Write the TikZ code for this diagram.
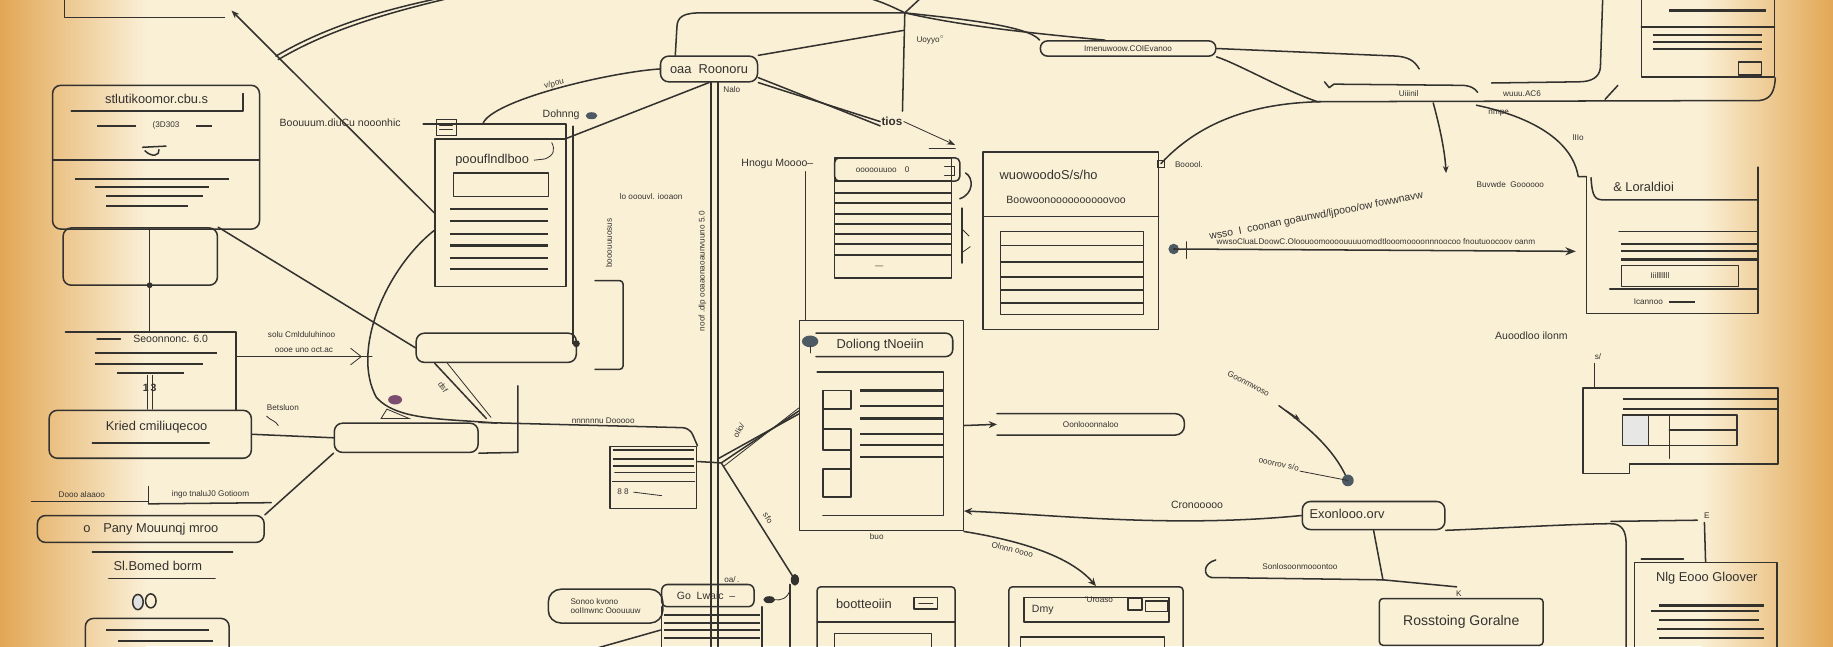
\documentclass[tikz,border=0pt]{standalone}
\usepackage{fontspec}
\setmainfont{Liberation Sans}
\usetikzlibrary{arrows.meta}
\definecolor{paper}{HTML}{FAF0D6}
\definecolor{amber}{HTML}{E2A755}
\definecolor{inkc}{HTML}{34322F}
\definecolor{slate}{HTML}{4E5A63}
\definecolor{plum}{HTML}{7B4E70}
\tikzset{
  ink/.style={draw=inkc, line width=1.3pt, line cap=round, line join=round},
  thin ink/.style={draw=inkc, line width=0.7pt, line cap=round},
  bar/.style={draw=inkc, line width=1.8pt},
  rbox/.style={ink, rounded corners=7pt, inner sep=0pt},
  sbox/.style={ink, inner sep=0pt},
  txt/.style={text=inkc, font=\fontsize{11}{13}\selectfont, inner sep=1pt},
  note/.style={text=inkc, font=\small, inner sep=1pt},
  wee/.style={text=inkc, font=\scriptsize, inner sep=1pt},
}
\begin{document}
\begin{tikzpicture}[x=1pt,y=-1pt]
% paper
\useasboundingbox (0,0) rectangle (1568,553);
\fill[paper] (0,0) rectangle (1568,553);
\shade[left color=amber, right color=paper] (0,0) rectangle (125,553);
\shade[left color=paper, right color=amber] (1455,0) rectangle (1568,553);

% left column
\draw[ink] (55,-2) -- (55,15) -- (192,15);
\coordinate (topend) at (198,9);
\node[rbox, minimum width=177pt, minimum height=123pt] (intake) at (133.5,134.5) {};
\draw[ink] (45,137) -- (222,137);
\draw[ink] (61,95) -- (208,95) -- (208,80);
\node[txt] (intaket) at (134,85) {stlutikoomor.cbu.s};
\draw[bar] (83,108) -- (116,108);
\draw[bar] (168,108) -- (181,108);
\node[wee] at (142,107) {(3D303};
\draw[ink] (122,126) -- (142,125);
\draw[ink] (124,129) .. controls (130,135) and (137,133) .. (136,128);
\foreach \y/\a/\b in {153/64/196,160/81/179,168/91/174,176/91/161}
  \draw[bar] (\a,\y) -- (\b,\y);
\node[rbox, minimum width=132pt, minimum height=49pt] (base) at (120,219.5) {};
\draw[ink] (128,195) -- (128,283);
\fill[inkc] (128,244) circle (2.5pt);

\draw[ink] (56,284) -- (202,284) -- (202,351);
\draw[ink] (202,305) -- (318,305);
\draw[thin ink] (300,298) -- (309,305) -- (300,312);
\draw[ink] (83,290) -- (103,290);
\node[note] (stack) at (146,290) {Seoonnonc. 6.0};
\foreach \y/\a/\b in {302/81/186,311/81/174,319/100/157}
  \draw[bar] (\a,\y) -- (\b,\y);
\node[note, font=\small\bfseries] at (128,332) {1\,3};
\draw[thin ink] (126,321) -- (126,350);
\draw[thin ink] (130,321) -- (130,350);
\node[wee] at (258,286) {solu Cmlduluhinoo};
\node[wee] at (260,299) {oooe uno oct.ac};
\node[wee] at (242,349) {Betsluon};
\draw[thin ink] (228,356) .. controls (232,360) and (236,360) .. (238,364);

\node[rbox, minimum width=173pt, minimum height=41pt] (kind) at (128.5,371.5) {};
\node[txt] at (134,365) {Kried cmiliuqecoo};
\draw[ink] (79,379) -- (179,379);
\node[wee] at (70,423) {Dooo alaaoo};
\draw[ink] (27,429) -- (127,429);
\draw[thin ink] (127,416) -- (127,431);
\node[wee] at (180,423) {ingo tnaluJ0 Gotioom};
\draw[ink] (127,431) -- (232,430);
\node[rbox, minimum width=194pt, minimum height=23pt, txt] (pony) at (129,452.5) {o\quad Pany Mouunqj mroo};
\draw[ink] (79,472) -- (199,472);
\node[txt] at (135,484) {Sl.Bomed borm};
\draw[ink] (93,495) -- (184,495);
\draw[ink, fill=inkc!15] (118,515) ellipse (4.5 and 6.5);
\draw[ink] (129,514) ellipse (4.5 and 6);
\node[rbox, minimum width=123pt, minimum height=40pt] (foot) at (134.5,549) {};
\draw[bar] (91,539) -- (179,539);
\draw[bar] (101,548) -- (182,548);

% document card
\node[sbox, minimum width=112pt, minimum height=126pt] (ddoc) at (428,182) {};
\draw[ink] (362,106) -- (484,106) -- (484,119);
\draw[thin ink] (373,102) rectangle (390,116);
\draw[thin ink] (376,107) -- (387,107);
\draw[thin ink] (376,111) -- (387,111);
\draw[ink] (490,108) -- (490,294);
\node[txt] (doct) at (421,137) {poouflndlboo};
\draw[thin ink] (457,137) -- (466,136) .. controls (474,133) and (475,128) .. (472,122);
\draw[sbox] (388,148) rectangle (469,168);
\foreach \y in {179,189,200,210,221,230}
  \draw[bar] (385,\y) -- (469,\y);
\node[note] (dohn) at (480,98) {Dohnng};
\fill[slate] (506,99) ellipse (5 and 3);
\node[note] at (291,105) {Boouuum.diuCu nooonhic};

\draw[ink, {Stealth[length=7pt]}-] (topend) -- (ddoc.west);
\coordinate (fork) at (236,48);
\draw[ink] (fork) .. controls (280,22) and (330,8) .. (378,-2);
\draw[ink] (fork) ++(2,3) .. controls (282,25) and (332,11) .. (382,-1);
\draw[ink] (ddoc.195) .. controls (330,230) and (300,300) .. (322,340)
  .. controls (340,360) and (380,358) .. (425,362);
\fill[plum] (338,342) ellipse (6 and 4);
\node[wee, rotate=-55] at (379,331) {dsf};
\draw[thin ink] (326,358) -- (331,350) -- (350,358) -- cycle;

\node[rbox, minimum width=137pt, minimum height=25pt] (mpill) at (424.5,297.5) {};
\fill[inkc] (493,294) circle (3pt);
\draw[ink] (base.north east) -- (mpill.west);
\draw[ink] (mpill.194) -- (416,358);
\draw[thin ink] (mpill.196) ++(4,0) -- (420,357);

\node[rbox, minimum width=123pt, minimum height=25pt] (mbar) at (347.5,374.5) {};
\draw[ink] (kind.east) -- (mbar.west);
\draw[ink] (pony.north east) -- (mbar.south west);
\draw[ink] (mbar.south east) -- (443,387) -- (443,330);

% middle column
\node[sbox, minimum width=74pt, minimum height=53pt] (mslip) at (559,408.5) {};
\draw[ink, rounded corners=6pt] (mbar.north east) -- (590,366) -- (mslip.north east);
\node[wee] at (516,360) {nnnnnnu Dooooo};
\foreach \y in {385,393,399}
  \draw[bar] (524,\y) -- (594,\y);
\draw[ink] (526,404) -- (594,404);
\draw[ink] (524,412) -- (594,412);
\node[wee] at (533,421) {8 8};
\draw[thin ink] (542,421) -- (566,424);

\node[rbox, minimum width=83pt, minimum height=22pt, txt] (croot) at (606.5,59) {oaa\ \ Roonoru};
\draw[ink] (608,70) -- (608,553);
\draw[ink] (614,70) -- (614,553);
\node[wee, rotate=90] at (601,232) {noof .dlp ooaaonaoaunvuuno 5.0};
\node[wee, rotate=90] at (521,208) {booouuuosus};
\node[wee] at (557,168) {lo ooouvl. iooaon};
\draw[ink, rounded corners=3pt] (509,240) -- (533,240) -- (533,316) -- (509,316);
\draw[ink] (ddoc.north east) -- (croot.south);
\draw[ink] (413,106) .. controls (420,86) and (520,62) .. (croot.west);
\node[wee, rotate=14] at (474,72) {v/pou};
\node[wee] at (626,77) {Nalo};

\coordinate (hub) at (774,11);
\coordinate (hubmid) at (773,26);
\coordinate (hubdown) at (772,95);
\draw[ink] (croot.158) -- (579,24) .. controls (579,14) and (585,11) .. (600,11) -- (hub);
\draw[ink] (hub) .. controls (760,4) and (750,0) .. (738,-3);
\draw[ink] (hub) -- (788,-2);
\draw[ink] (hub) -- (hubdown);
\draw[ink] (hubmid) -- (croot.north east);
\node[wee] at (796,34) {Uoyyo$^\circ$};

\node[txt, font=\normalsize\bfseries] (tios) at (763,104) {tios};
\draw[ink] (croot.south east) -- (tios.west);
\draw[ink] (croot.-10) -- (tios.200);
\draw[thin ink, -{Stealth[length=7pt,width=5pt]}] (tios.east) -- (817,124);
\draw[ink] (795,127) -- (817,127);

\node[rbox, rounded corners=6pt, minimum width=150pt, minimum height=13pt, wee] (cpill) at (965,41.5) {Imenuwoow.COIEvanoo};
\draw[ink] (hub) .. controls (820,16) and (880,22) .. (cpill.north west);
\draw[ink] (hub) .. controls (822,22) and (878,28) .. (cpill.160);

% list card and header
\node[sbox, minimum width=100pt, minimum height=103pt] (mlist) at (764,186.5) {};
\draw[ink, rounded corners=4pt] (714,135) rectangle (821,155);
\node[wee] at (755,145) {ooooouuoo\quad 0};
\draw[thin ink] (808,142) -- (816,142) -- (816,150) -- (808,150);
\foreach \y in {155,165,174,183,192,200,209,218}
  \draw[bar] (714,\y) -- (814,\y);
\node[wee] at (752,229) {---};
\draw[ink] (826,148) .. controls (833,152) and (833,166) .. (821,170);
\draw[ink] (823,178) -- (823,225);
\draw[thin ink] (823,196) -- (829,202);
\draw[thin ink] (823,216) -- (830,211);
\node[note] at (665,140) {Hnogu Moooo--};
\draw[ink] (689,147) -- (689,274);

% form card
\node[sbox, minimum width=140pt, minimum height=180pt] (mform) at (754,364) {};
\draw[ink, rounded corners=6pt] (698,285) -- (815,285) -- (815,305) -- (698,305);
\fill[slate] (693,292) ellipse (7 and 5);
\draw[thin ink] (693,296) -- (693,302);
\node[txt] at (753,295) {Doliong tNoeiin};
\draw[ink] (699,318) -- (807,318) -- (807,441) -- (704,441);
\foreach \y in {334,347,358,371,381,391}
  \draw[bar] (736,\y) -- (807,\y);
\draw[ink] (704,334) rectangle (728,350);
\draw[ink] (704,367) rectangle (728,385);
\draw[ink] (704,401) rectangle (728,425);
\draw[ink] (704,350) -- (704,367);
\draw[ink] (728,385) -- (728,401);
\node[wee] at (750,459) {buo};

\coordinate (knot) at (617,396);
\draw[ink] (knot) -- (mform.170);
\draw[ink] (615,392) -- (mform.172);
\draw[thin ink] (619,399) -- (mform.168);
\draw[ink] (mslip.20) -- (knot);
\node[wee, rotate=60] at (632,368) {olio/};
\coordinate (pin) at (680,496);
\draw[ink] (knot) -- (pin);
\fill[inkc] (pin) ellipse (3.5 and 5);
\node[wee, rotate=-58] at (657,443) {sfo};
\draw[ink] (676,500) -- (676,553);
\draw[thin ink] (676,504) .. controls (674,512) and (668,514) .. (662,513);
\fill[inkc] (658,513) ellipse (5 and 3);
\node[wee] at (626,496) {oa/\,.};

% bottom middle
\node[rbox, rounded corners=5pt, minimum width=79pt, minimum height=19pt] (bgo) at (605.5,509.5) {};
\node[note] at (604,510) {Go\ \ Lwaic\ \ --};
\draw[ink] (566,519) -- (566,556);
\draw[ink] (652,519) -- (652,556);
\foreach \y in {526,533,539,546}
  \draw[bar] (568,\y) -- (650,\y);
\node[draw=inkc, line width=1.3pt, rounded corners=11pt, minimum width=98pt, minimum height=29pt, align=left, wee] (bsono) at (518,518.5) {Sonoo kvono\\ ooIInwnc Ooouuuw};
\coordinate (lowleft) at (505,556);
\coordinate (bgofoot) at (565,539);
\draw[ink] (lowleft) -- (bgofoot);

\node[sbox, rounded corners=3pt, minimum width=118pt, minimum height=60pt] (bbot) at (758,532) {};
\draw[ink] (699,532) -- (817,532);
\node[txt] at (739,517) {bootteoiin};
\draw[ink] (782,511) rectangle (802,521);
\draw[thin ink] (786,516) -- (798,516);
\draw[ink] (714,542) rectangle (797,560);

\node[sbox, rounded corners=3pt, minimum width=149pt, minimum height=60pt] (bdmy) at (937.5,532) {};
\draw[ink] (876,511) rectangle (1000,532);
\node[note] at (892,522) {Dmy};
\node[wee] at (940,513) {'Uroaso};
\draw[ink] (965,512) rectangle (977,522);
\draw[ink] (980,514) rectangle (999,523);
\draw[ink] (873,545) rectangle (996,560);
\draw[ink, -{Stealth[length=7pt,width=6pt]}] (mform.south east) .. controls (870,462) and (915,475) .. (bdmy.north);
\node[wee, rotate=-14] at (866,470) {Olnnn oooo};

% right of the form
\node[minimum width=160pt, minimum height=18pt, inner sep=0pt, wee] (mpill2) at (933,363) {Oonlooonnaloo};
\draw[ink, rounded corners=8pt] (mpill2.north west) -- (mpill2.north east) -- (mpill2.south east) -- (mpill2.south west);
\draw[ink, -{Stealth[length=7pt,width=6pt]}] (mform.east) -- (mpill2.west);

\node[rbox, minimum width=122pt, minimum height=24pt] (bexo) at (1175,441) {};
\node[txt, anchor=west] at (1119,440) {Exonlooo.orv};
\draw[ink, -{Stealth[length=7pt,width=6pt]}] (bexo.west) .. controls (1000,452) and (900,440) .. (mform.-46);
\node[note] at (1024,432) {Cronooooo};
\draw[ink] (bexo.south east) .. controls (1280,452) and (1350,448) .. (1378,448)
  .. controls (1388,448) and (1391,455) .. (1391,465) -- (1391,556);
\draw[ink] (1378,446) -- (1452,445);
\draw[ink] (1458,447) -- (1459,481);
\node[wee] at (1460,441) {E};
\coordinate (bexofoot) at (1183,496);
\draw[ink] (bexo.south) -- (bexofoot);
\draw[ink] (bexofoot) -- (1246,502);
\draw[ink] (bexofoot) -- (1036,494) .. controls (1029,492) and (1029,482) .. (1040,479);
\node[wee] at (1112,485) {Sonlosoonmooontoo};
\node[wee] at (1248,508) {K};

\node[sbox, rounded corners=3pt, minimum width=140pt, minimum height=40pt, txt, font=\large] (bros) at (1250,532) {Rosstoing Goralne};
\node[sbox, minimum width=122pt, minimum height=80pt] (bglo) at (1459,521) {};
\node[txt] at (1460,495) {Nlg Eooo Gloover};
\draw[ink] (1404,478) -- (1440,478);
\foreach \y/\a/\b in {518/1419/1509,523/1412/1505,530/1419/1505,538/1417/1509,546/1419/1509}
  \draw[bar] (\a,\y) -- (\b,\y);

% top right region
\draw[ink] (cpill.east) -- (1195,48) .. controls (1205,49) and (1210,52) .. (1214,59);
\draw[ink] (cpill.south east) .. controls (1060,55) and (1100,78) .. (1127,87);
\node[sbox, minimum width=114pt, minimum height=76pt] (toprt) at (1461,28) {};
\draw[bar] (1428,9) -- (1511,9);
\draw[ink] (1404,23) -- (1518,23);
\foreach \y in {30,36,42}
  \draw[bar] (1414,\y) -- (1507,\y);
\draw[ink] (1487,53) rectangle (1507,64);
\draw[ink] (1127,87) -- (1505,86) .. controls (1515,85) and (1518,78) .. (toprt.south east);
\coordinate (rhook) at (993,140);
\draw[ink] (rhook) .. controls (1030,100) and (1080,88) .. (1130,87);
\draw[thin ink] (990,137) rectangle (996,143);
\node[wee] at (1017,141) {Booool.};
\draw[ink] (1133,70) -- (1137,75) -- (1141,72) -- (1250,73) .. controls (1258,73) and (1262,76) .. (1264,79);
\draw[ink] (1371,-2) -- (1369,58) .. controls (1368,66) and (1362,70) .. (1350,70) -- (1276,71);
\draw[ink] (1373,85) -- (1384,73);
\node[wee] at (1205,80) {Uiiinil};
\node[wee] at (1302,80) {wuuu.AC6};
\node[wee] at (1282,97) {nmpe};
\node[wee] at (1350,118) {lIIo};
\draw[ink, -{Stealth[length=6pt,width=5pt]}] (1226,88) .. controls (1232,110) and (1236,130) .. (1237,148);
\node[wee] at (1292,158) {Buvwde\ \ Goooooo};
\draw[ink] (1263,90) .. controls (1310,100) and (1345,120) .. (1350,151) -- (1357,151);

% tall right card
\draw[ink] (1357,151) -- (1357,268) -- (1504,268) -- (1504,143);
\draw[ink] (1361,152) .. controls (1362,168) and (1364,171) .. (1372,171) -- (1504,171);
\node[txt] (rtall) at (1406,160) {\&\ Loraldioi};
\draw[ink] (1385,198) -- (1504,198);
\foreach \y in {209,215,222}
  \draw[bar] (1387,\y) -- (1504,\y);
\draw[ink] (1387,227) rectangle (1487,245);
\node[wee] at (1420,236) {Iiilllllll};
\draw[ink] (1377,247) -- (1504,247);
\node[wee] at (1410,258) {Icannoo};
\draw[bar] (1428,258) -- (1450,258);

% wide panel
\node[sbox, minimum width=150pt, minimum height=152pt] (rpanel) at (916,206) {};
\draw[ink] (841,185) -- (991,185);
\node[txt] at (897,150) {wuowoodoS/s/ho};
\node[note] at (912,171) {Boowoonoooooooooovoo};
\draw[sbox] (856,198) rectangle (978,269);
\foreach \y in {210,224,237,248,259}
  \draw[ink] (856,\y) -- (978,\y);

% long arrow
\coordinate (arrowtail) at (1004,213);
\coordinate (arrowhead) at (1348,215);
\fill[slate] (arrowtail) circle (4.5pt);
\draw[ink, -{Stealth[length=9pt,width=7pt]}] (arrowtail) -- (arrowhead);
\draw[ink] (1015,207) -- (1015,221);
\node[wee] at (1177,207) {wwsoCluaLDoowC.Oloouoomoooouuuuomodtlooomoooonnnoocoo fnoutuoocoov oanm};
\node[note, rotate=11] at (1126,185) {wsso\ \ I\ \ coonan goaunwd/ljpooo/ow fowwnavw};

% stepped sheet
\coordinate (rsheet) at (1364,332);
\draw[ink] (1354,332) -- (1521,332) -- (1521,397) -- (1394,397) -- (1394,405) -- (1354,405) -- cycle;
\draw[bar] (1388,341) -- (1521,341);
\draw[bar] (1388,350) -- (1521,350);
\fill[inkc!12] (1388,355) rectangle (1410,381);
\draw[ink] (1388,355) rectangle (1486,381);
\draw[ink] (1410,355) -- (1410,381);
\draw[ink] (1428,355) -- (1428,392);
\draw[ink] (1428,368) -- (1486,368);
\draw[ink] (rsheet) -- (1364,311);
\node[wee] at (1367,305) {s/};
\node[note] at (1310,287) {Auoodloo ilonm};

\coordinate (gtail) at (1094,347);
\coordinate (gdot) at (1153,411);
\draw[ink] (gtail) .. controls (1120,366) and (1142,385) .. (gdot);
\fill[slate] (gdot) circle (5pt);
\draw[thin ink, -{Stealth[length=6pt]}] (1100,351) -- (1112,359);
\node[wee, rotate=-28] at (1068,328) {Goonmwoso};
\node[wee, rotate=-12] at (1094,397) {ooorrov s/o};
\draw[thin ink] (1112,403) -- (gdot);
\end{tikzpicture}
\end{document}
